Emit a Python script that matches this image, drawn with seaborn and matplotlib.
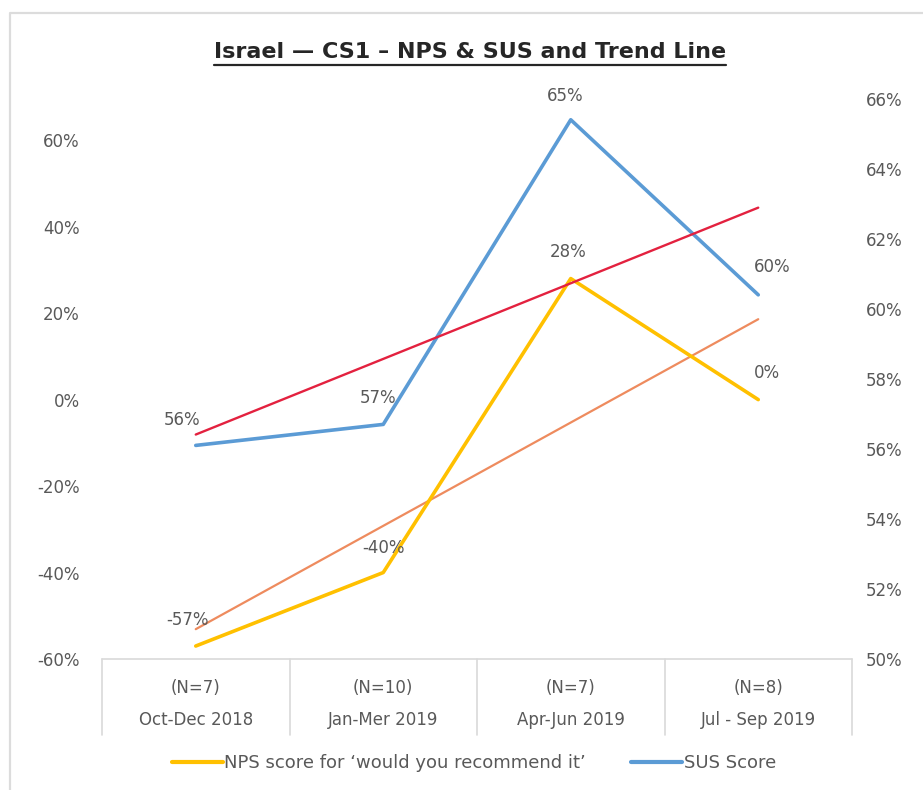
import numpy as np
import pandas as pd
import matplotlib
matplotlib.use("Agg")
import matplotlib.pyplot as plt
from matplotlib.lines import Line2D
import seaborn as sns

# Quarterly survey results
quarters = ["Oct-Dec 2018", "Jan-Mer 2019", "Apr-Jun 2019", "Jul - Sep 2019"]
sample_sizes = ["(N=7)", "(N=10)", "(N=7)", "(N=8)"]
nps_scores = [-57.0, -40.0, 28.0, 0.0]
sus_scores = [56.1, 56.7, 65.4, 60.4]

left_ticks = [-60, -40, -20, 0, 20, 40, 60]
right_ticks = [50, 52, 54, 56, 58, 60, 62, 64, 66]

NPS_COLOR = "#FFC000"
SUS_COLOR = "#5B9BD5"
SUS_TREND = "#E3213F"
NPS_TREND = "#EE8B5E"
TEXT = "#595959"

sns.set_theme(style="white")
plt.rcParams["font.family"] = ["DejaVu Sans"]

df = pd.DataFrame({"idx": np.arange(len(quarters)), "quarter": quarters,
                   "nps": nps_scores, "sus": sus_scores})

fig = plt.figure(figsize=(9.23, 7.9), dpi=100)
W, H = 923, 790
ax_l, ax_r, ax_t, ax_b = 102, 852, 97, 659
ax = fig.add_axes([ax_l / W, 1 - ax_b / H, (ax_r - ax_l) / W, (ax_b - ax_t) / H])
ax2 = ax.twinx()

# Main series
sns.lineplot(data=df, x="idx", y="nps", ax=ax, color=NPS_COLOR, lw=2.6,
             solid_capstyle="round", solid_joinstyle="round", zorder=3)
sns.lineplot(data=df, x="idx", y="sus", ax=ax2, color=SUS_COLOR, lw=2.6,
             solid_capstyle="round", solid_joinstyle="round", zorder=3)

# Linear trend lines
xs = df["idx"].to_numpy(dtype=float)
nps_fit = np.polyval(np.polyfit(xs, df["nps"], 1), xs)
sus_fit = np.polyval(np.polyfit(xs, df["sus"], 1), xs)
sns.lineplot(x=xs, y=nps_fit, ax=ax, color=NPS_TREND, lw=1.6, zorder=2)
sns.lineplot(x=xs, y=sus_fit, ax=ax2, color=SUS_TREND, lw=1.7, zorder=4)

ax.set_xlim(-0.5, len(quarters) - 0.5)
ax.set_ylim(-60, 70)
ax2.set_ylim(50, 66.05)
ax.set_yticks(left_ticks)
ax.set_yticklabels([f"{v}%" for v in left_ticks])
ax2.set_yticks(right_ticks)
ax2.set_yticklabels([f"{v}%" for v in right_ticks])
for a in (ax, ax2):
    a.set_xlabel("")
    a.set_ylabel("")
    a.set_xticks([])
    for s in a.spines.values():
        s.set_visible(False)
    a.tick_params(axis="y", length=0, labelsize=12, labelcolor=TEXT)
    a.patch.set_visible(False)
ax.tick_params(axis="y", pad=16)
ax2.tick_params(axis="y", pad=10)

# Data labels
nps_offsets = [(-6, 18.5), (0, 18), (-2, 19), (6, 19)]
sus_offsets = [(-10, 18.5), (-4, 19), (-4, 17), (10, 20)]
for i, v in enumerate(nps_scores):
    ax.annotate(f"{v:.0f}%", (i, v), xytext=nps_offsets[i], textcoords="offset points",
                ha="center", va="center", fontsize=12, color=TEXT, zorder=5)
for i, v in enumerate(sus_scores):
    ax2.annotate(f"{v:.0f}%", (i, v), xytext=sus_offsets[i], textcoords="offset points",
                 ha="center", va="center", fontsize=12, color=TEXT, zorder=5)

# Category table below the plot area
grid = "#D9D9D9"
table_bottom = 735
span = ax_b - ax_t
ax.plot([-0.5, len(quarters) - 0.5], [0, 0], transform=ax.get_xaxis_transform(),
        color=grid, lw=1.2, clip_on=False)
for b in np.arange(-0.5, len(quarters), 1.0):
    ax.plot([b, b], [0, -(table_bottom - ax_b) / span],
            transform=ax.get_xaxis_transform(), color=grid, lw=1.2, clip_on=False)
for i, (n, q) in enumerate(zip(sample_sizes, quarters)):
    ax.text(i, -(688 - ax_b) / span, n, transform=ax.get_xaxis_transform(),
            ha="center", va="center", fontsize=12, color=TEXT)
    ax.text(i, -(720 - ax_b) / span, q, transform=ax.get_xaxis_transform(),
            ha="center", va="center", fontsize=12, color=TEXT)

# Legend
handles = [Line2D([], [], color=NPS_COLOR, lw=3),
           Line2D([], [], color=SUS_COLOR, lw=3)]
fig.legend(handles, ["NPS score for \u2018would you recommend it\u2019", "SUS Score"],
           loc="center", bbox_to_anchor=(474 / W, 1 - 763 / H), ncol=2, frameon=False,
           fontsize=13, labelcolor=TEXT, handlelength=2.8, handletextpad=0.1,
           columnspacing=2.5)

# Underlined title
title = fig.text(470 / W, 1 - 52 / H, "Israel \u2014 CS1 \u2013 NPS & SUS and Trend Line",
                 ha="center", va="center", fontsize=16, fontweight="bold", color="#262626")
fig.canvas.draw()
bb = title.get_window_extent(fig.canvas.get_renderer())
uy = (bb.y0 - 3) / fig.bbox.height
fig.add_artist(Line2D([bb.x0 / fig.bbox.width, bb.x1 / fig.bbox.width], [uy, uy],
                      color="#262626", lw=1.6))

# Outer frame edge
fx, fy = 10 / W, 1 - 13 / H
fig.add_artist(Line2D([fx, fx, 1], [0, fy, fy], color="#DCDCDC", lw=1.6))

fig.savefig("out.png", dpi=100, facecolor="white")
